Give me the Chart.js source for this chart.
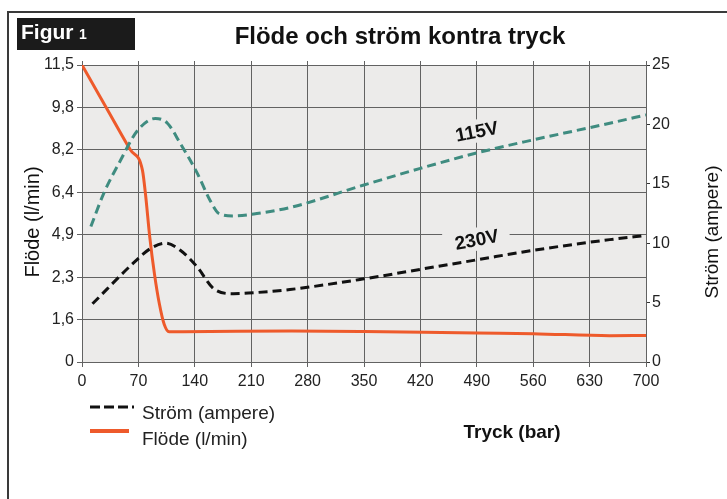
<!DOCTYPE html>
<html><head><meta charset="utf-8">
<script src="https://cdn.jsdelivr.net/npm/chart.js@4.4.1/dist/chart.umd.min.js"></script>
<style>html,body{margin:0;padding:0;background:#fff;}canvas{display:block}</style>
</head><body>
<canvas id="c" width="727" height="499"></canvas>
<script>
// ---- data ----
const tryckTicks = [0, 70, 140, 210, 280, 350, 420, 490, 560, 630, 700];
const flödeEtiketter = ['0', '1,6', '2,3', '4,9', '6,4', '8,2', '9,8', '11,5']; // left axis, bottom → top (evenly spaced)
const strömTicks = [0, 5, 10, 15, 20, 25];

const flödeTryck = [0, 30, 60, 75, 79, 84, 90, 96, 102, 108, 125, 260, 350, 490, 560, 655, 700];
const flöde      = [11.5, 9.8, 8.2, 7.34, 6.28, 4.8, 2.47, 1.86, 1.42, 1.14, 1.14, 1.17, 1.15, 1.09, 1.07, 0.99, 1.0];

const ström115Tryck = [11, 27, 48, 68, 91, 106, 122, 143, 159, 170, 188, 217, 258, 350, 420, 490, 560, 655, 700];
const ström115      = [11.4, 14.2, 17.0, 19.4, 20.5, 20.1, 18.4, 15.9, 13.6, 12.5, 12.3, 12.5, 13.0, 14.9, 16.3, 17.6, 18.7, 20.1, 20.8];

const ström230Tryck = [13, 68, 85, 104, 122, 143, 163, 188, 217, 258, 350, 420, 490, 560, 655, 700];
const ström230      = [4.9, 8.6, 9.55, 10.0, 9.4, 8.0, 6.2, 5.75, 5.85, 6.1, 7.0, 7.8, 8.6, 9.4, 10.3, 10.65];

const spänningsEtiketter = [
  { text: '115V', tryck: 490, ström: 19.4 },
  { text: '230V', tryck: 490, ström: 10.3 }
];

// ---- helpers ----
const flödeNivåer = flödeEtiketter.map(s => parseFloat(s.replace(',', '.')));
function flödePos(v) {
  for (let i = 0; i < flödeNivåer.length - 1; i++) {
    if (v <= flödeNivåer[i + 1]) return i + (v - flödeNivåer[i]) / (flödeNivåer[i + 1] - flödeNivåer[i]);
  }
  return flödeNivåer.length - 1;
}
const pts = (xs, ys, f) => xs.map((x, i) => ({ x, y: f ? f(ys[i]) : ys[i] }));

const FONT = "'Liberation Sans', Arial, Helvetica, sans-serif";
Chart.defaults.font.family = FONT;
Chart.defaults.color = '#222';
const PLOT_BG = '#ecebea';
const GRID = '#626262';

const deco = {
  id: 'deco',
  beforeDraw(chart) {
    const { ctx, chartArea: a } = chart;
    ctx.save();
    ctx.fillStyle = '#fff';
    ctx.fillRect(0, 0, chart.width, chart.height);
    ctx.fillStyle = PLOT_BG;
    ctx.fillRect(a.left, a.top, a.right - a.left, a.bottom - a.top);
    // frame
    ctx.strokeStyle = '#3a3a3a'; ctx.lineWidth = 2;
    ctx.beginPath(); ctx.moveTo(8, 499); ctx.lineTo(8, 12); ctx.lineTo(727, 12); ctx.stroke();
    // Figur box
    ctx.fillStyle = '#1b1b1b';
    ctx.fillRect(17, 18, 118, 32);
    ctx.fillStyle = '#fff'; ctx.textBaseline = 'alphabetic'; ctx.textAlign = 'left';
    ctx.font = 'bold 21px ' + FONT; ctx.fillText('Figur', 21, 39);
    ctx.font = 'bold 14px ' + FONT; ctx.fillText('1', 79, 39);
    // title
    ctx.fillStyle = '#111'; ctx.textAlign = 'center';
    ctx.font = 'bold 24px ' + FONT; ctx.fillText('Flöde och ström kontra tryck', 400, 44);
    // x title
    ctx.font = 'bold 19px ' + FONT; ctx.textBaseline = 'middle';
    ctx.fillText('Tryck (bar)', 512, 433);
    // left title
    ctx.font = '20px ' + FONT;
    ctx.save(); ctx.translate(33, 222); ctx.rotate(-Math.PI / 2); ctx.fillText('Flöde (l/min)', 0, 0); ctx.restore();
    // right title
    ctx.font = '19px ' + FONT;
    ctx.save(); ctx.translate(713, 232); ctx.rotate(-Math.PI / 2); ctx.fillText('Ström (ampere)', 0, 0); ctx.restore();
    // legend
    ctx.lineWidth = 3; ctx.strokeStyle = '#111'; ctx.setLineDash([10, 4]);
    ctx.beginPath(); ctx.moveTo(90, 407); ctx.lineTo(134, 407); ctx.stroke();
    ctx.setLineDash([]); ctx.lineWidth = 4; ctx.strokeStyle = '#ee5a2b';
    ctx.beginPath(); ctx.moveTo(90, 431); ctx.lineTo(129, 431); ctx.stroke();
    ctx.fillStyle = '#222'; ctx.textAlign = 'left'; ctx.textBaseline = 'alphabetic';
    ctx.font = '19px ' + FONT;
    ctx.fillText('Ström (ampere)', 142, 419);
    ctx.fillText('Flöde (l/min)', 142, 445);
    ctx.restore();
  },
  beforeDatasetsDraw(chart) {
    const { ctx } = chart;
    const xs = chart.scales.x, ys = chart.scales.y1;
    ctx.save();
    ctx.font = 'bold 19px ' + FONT;
    ctx.textAlign = 'center'; ctx.textBaseline = 'middle';
    spänningsEtiketter.forEach(l => {
      const px = xs.getPixelForValue(l.tryck), py = ys.getPixelForValue(l.ström);
      const w = ctx.measureText(l.text).width;
      ctx.save(); ctx.translate(px, py); ctx.rotate(-11 * Math.PI / 180);
      ctx.fillStyle = PLOT_BG; ctx.fillRect(-w / 2 - 11, -12, w + 22, 23);
      ctx.fillStyle = '#111'; ctx.fillText(l.text, 0, 1);
      ctx.restore();
    });
    ctx.restore();
  }
};

new Chart(document.getElementById('c'), {
  type: 'line',
  data: {
    datasets: [
      { label: '115V', data: pts(ström115Tryck, ström115), yAxisID: 'y1', borderColor: '#3f8c80', borderWidth: 3, borderDash: [9, 5], cubicInterpolationMode: 'monotone', pointRadius: 0 },
      { label: '230V', data: pts(ström230Tryck, ström230), yAxisID: 'y1', borderColor: '#111', borderWidth: 3, borderDash: [9, 5], cubicInterpolationMode: 'monotone', pointRadius: 0 },
      { label: 'Flöde (l/min)', data: pts(flödeTryck, flöde, flödePos), yAxisID: 'y', borderColor: '#ee5a2b', borderWidth: 3, cubicInterpolationMode: 'monotone', pointRadius: 0 }
    ]
  },
  options: {
    responsive: false, animation: false, devicePixelRatio: 1,
    layout: { padding: { left: 0, right: 0, top: 61, bottom: 0 } },
    plugins: { legend: { display: false }, title: { display: false }, tooltip: { enabled: false } },
    scales: {
      x: {
        type: 'linear', position: 'bottom', min: 0, max: 700,
        afterBuildTicks: s => { s.ticks = tryckTicks.map(v => ({ value: v })); },
        afterFit: s => { s.height = 137; },
        ticks: { font: { size: 16 }, padding: 5, color: '#222' },
        grid: { color: GRID, lineWidth: 1, tickLength: 5, tickColor: GRID },
        border: { color: GRID }
      },
      xTop: {
        type: 'linear', position: 'top', min: 0, max: 700,
        afterBuildTicks: s => { s.ticks = tryckTicks.map(v => ({ value: v })); },
        ticks: { display: false },
        afterFit: s => { s.height = 4; },
        grid: { drawOnChartArea: false, tickLength: 4, color: GRID },
        border: { display: false }
      },
      y: {
        type: 'linear', position: 'left', min: 0, max: flödeEtiketter.length - 1,
        afterBuildTicks: s => { s.ticks = flödeEtiketter.map((t, i) => ({ value: i })); },
        afterFit: s => { s.width = 82; },
        ticks: { font: { size: 16 }, padding: 3, color: '#222', callback: v => flödeEtiketter[v] },
        grid: { color: GRID, lineWidth: 1, tickLength: 5, tickColor: GRID },
        border: { color: GRID }
      },
      y1: {
        type: 'linear', position: 'right', min: 0, max: 25,
        afterBuildTicks: s => { s.ticks = strömTicks.map(v => ({ value: v })); },
        afterFit: s => { s.width = 81; },
        ticks: { font: { size: 16 }, padding: 2, color: '#222' },
        grid: { drawOnChartArea: false, tickLength: 4, color: '#333' },
        border: { color: GRID }
      }
    }
  },
  plugins: [deco]
});
</script>
</body></html>
